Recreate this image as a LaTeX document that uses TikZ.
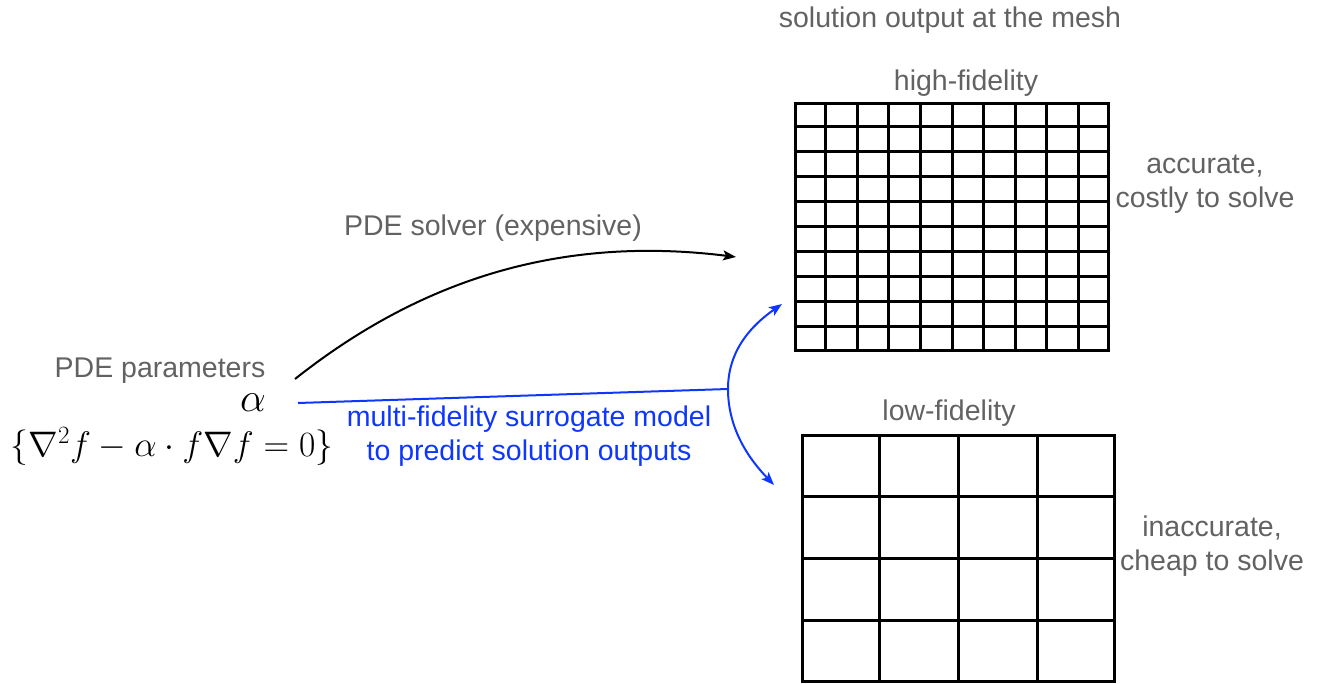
\documentclass[tikz,border=0pt]{standalone}
\usepackage{fix-cm}
\usepackage{fontspec}
\setmainfont{Liberation Sans}
\usetikzlibrary{arrows.meta,calc}
\definecolor{txtgray}{RGB}{98,98,98}
\definecolor{mfblue}{RGB}{15,55,252}
\tikzset{
  lbl/.style={text=txtgray, font=\fontsize{28.5}{34}\selectfont, inner sep=0pt},
  lbltwo/.style={lbl, align=center},
  bluelbl/.style={text=mfblue, font=\fontsize{28.5}{34}\selectfont, inner sep=0pt, align=center},
  mathlbl/.style={inner sep=0pt, font=\fontsize{35.5}{42}\selectfont},
  alphalbl/.style={inner sep=0pt, font=\fontsize{41}{48}\selectfont},
  gridbox/.style={draw, line width=3pt, inner sep=0pt},
  gridline/.style={line width=3pt},
  blackarrow/.style={line width=2pt, -{Stealth[length=13pt,width=10pt,inset=3pt]}},
  bluearrow/.style={draw=mfblue, line width=2pt, -{Stealth[length=13pt,width=10pt,inset=3pt]}},
}
\begin{document}
\begin{tikzpicture}[x=1pt,y=-1pt]
\useasboundingbox (0,0) rectangle (1320,684);
% texts
\node[lbl] (title) at (950,20) {solution output at the mesh};
\node[lbl] (hflbl) at (966,83) {high-fidelity};
\node[lbltwo] (acc) at (1205,184) {accurate,\\costly to solve};
\node[lbl] (lflbl) at (949,413) {low-fidelity};
\node[lbltwo] (inacc) at (1212,546) {inaccurate,\\cheap to solve};
\node[lbl] (solver) at (493,228) {PDE solver (expensive)};
\node[lbl] (params) at (160,371) {PDE parameters};
\node[alphalbl] (alpha) at (253,403) {$\alpha$};
\node[mathlbl] (eq) at (172,446) {$\{\nabla^2 f - \alpha\cdot f\nabla f = 0\}$};
\node[bluelbl] (mf) at (529,436) {multi-fidelity surrogate model\\to predict solution outputs};
% grids
\node[gridbox, minimum width=313, minimum height=247, anchor=north west] (hf) at (794,102) {};
\foreach \i in {1,...,9} {
  \draw[gridline] ($(hf.north west)!\i/10!(hf.north east)$) -- ($(hf.south west)!\i/10!(hf.south east)$);
  \draw[gridline] ($(hf.north west)!\i/10!(hf.south west)$) -- ($(hf.north east)!\i/10!(hf.south east)$);
}
\node[gridbox, minimum width=312, minimum height=246, anchor=north west] (lf) at (801,434) {};
\foreach \i in {1,...,3} {
  \draw[gridline] ($(lf.north west)!\i/4!(lf.north east)$) -- ($(lf.south west)!\i/4!(lf.south east)$);
  \draw[gridline] ($(lf.north west)!\i/4!(lf.south west)$) -- ($(lf.north east)!\i/4!(lf.south east)$);
}
% connectors
\coordinate (s1) at (295,379);
\coordinate (e1) at (736,257);
\draw[blackarrow] (s1) .. controls (420,280) and (560,235) .. (e1);
\coordinate (s2) at (298,403);
\coordinate (j) at (728,389);
\coordinate (e2) at (782,304);
\coordinate (e3) at (774,485);
\draw[mfblue, line width=2pt] (s2) -- (j);
\draw[bluearrow] (j) .. controls (728,350) and (752,325) .. (e2);
\draw[bluearrow] (j) .. controls (728,430) and (750,460) .. (e3);
\end{tikzpicture}
\end{document}
